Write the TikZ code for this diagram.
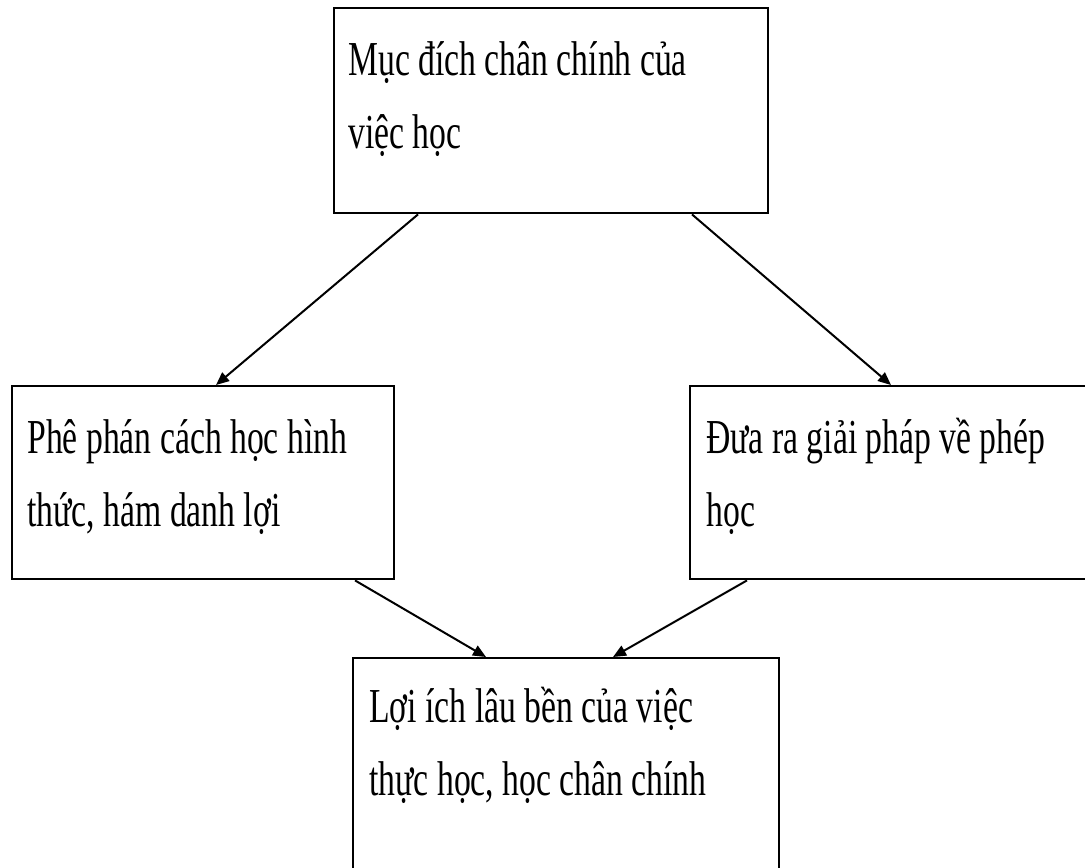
\documentclass[tikz,border=0pt]{standalone}
\usepackage{fontspec}
\setmainfont{Liberation Serif}[FakeStretch=0.69]
\usetikzlibrary{arrows.meta}
\begin{document}
\begin{tikzpicture}[x=0.5pt,y=-0.5pt,
  box/.style={draw, line width=1.2pt, inner sep=0pt, anchor=north west},
  txt/.style={inner sep=0pt, anchor=base west, align=left, font=\fontsize{24.4}{36.5}\selectfont},
  arr/.style={line width=1pt, -{Triangle[length=6.5pt,width=5.5pt]}}]
\useasboundingbox (0,0) rectangle (1085,867);
\clip (0,0) rectangle (1085,867);
\fill[white] (0,0) rectangle (1085,867);
\node[box, minimum width=217pt, minimum height=102.5pt] (top) at (333,7) {};
\node[box, minimum width=191pt, minimum height=96.5pt] (left) at (11,385) {};
\node[box, minimum width=220pt, minimum height=96.5pt] (right) at (689,385) {};
\node[box, minimum width=213pt, minimum height=120pt] (bottom) at (352,657) {};
\node[txt] (ttop) at ([xshift=7.5pt,yshift=-70.5pt]top.north west) {Mục đích chân chính của\\việc học};
\node[txt] (tleft) at ([xshift=8pt,yshift=-70.5pt]left.north west) {Phê phán cách học hình\\thức, hám danh lợi};
\node[txt] (tright) at ([xshift=8.5pt,yshift=-70.5pt]right.north west) {Đưa ra giải pháp về phép\\học};
\node[txt] (tbottom) at ([xshift=8.5pt,yshift=-69pt]bottom.north west) {Lợi ích lâu bền của việc\\thực học, học chân chính};
\draw[arr] ([xshift=42.5pt]top.south west) -- ([xshift=102.5pt]left.north west);
\draw[arr] ([xshift=179.5pt]top.south west) -- ([xshift=101pt]right.north west);
\draw[arr] ([xshift=172pt]left.south west) -- ([xshift=67pt]bottom.north west);
\draw[arr] ([xshift=29pt]right.south west) -- ([xshift=130.5pt]bottom.north west);
\end{tikzpicture}
\end{document}
